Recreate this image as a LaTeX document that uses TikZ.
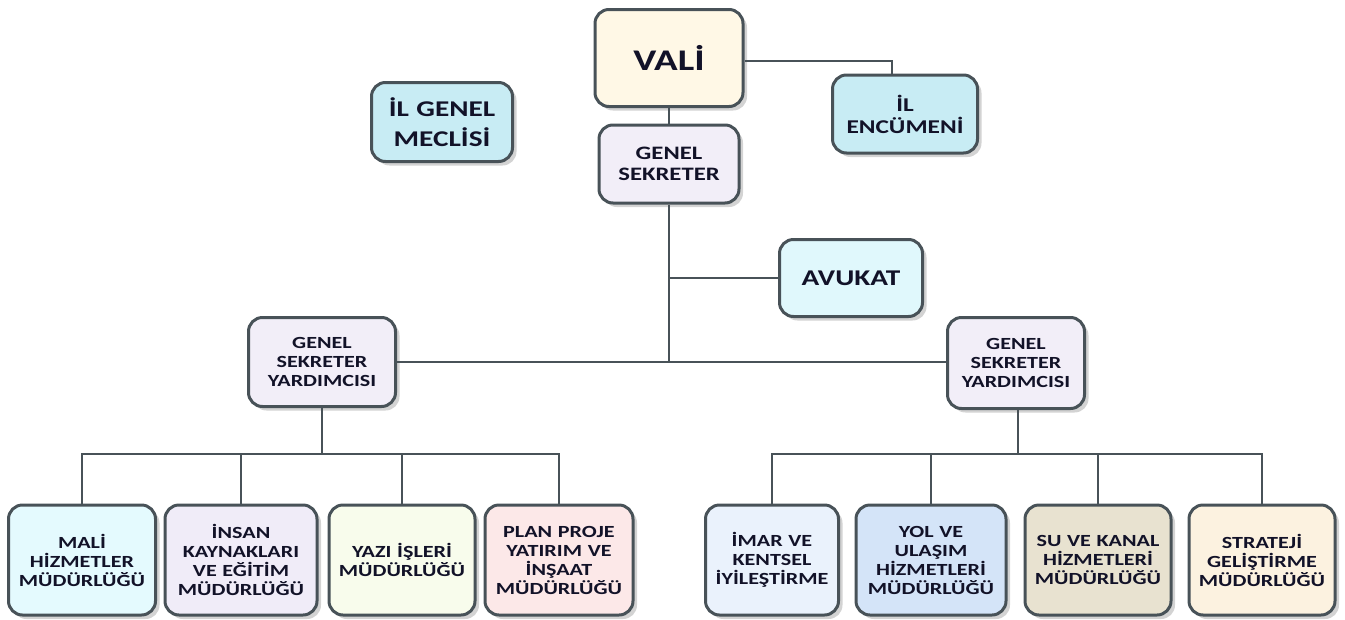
\documentclass[tikz,border=0pt]{standalone}
\usepackage{fontspec}
\setmainfont{Carlito}[FakeStretch=1.3]
\usetikzlibrary{shadows}
\definecolor{cream}{RGB}{255, 248, 230}
\definecolor{skyblue}{RGB}{200, 236, 244}
\definecolor{lavender}{RGB}{242, 238, 248}
\definecolor{icecyan}{RGB}{224, 248, 252}
\definecolor{palecyan}{RGB}{228, 250, 254}
\definecolor{palelilac}{RGB}{240, 236, 248}
\definecolor{palelime}{RGB}{248, 252, 236}
\definecolor{palerose}{RGB}{252, 232, 232}
\definecolor{paleblue}{RGB}{234, 242, 252}
\definecolor{softblue}{RGB}{212, 228, 248}
\definecolor{sand}{RGB}{232, 226, 208}
\definecolor{peach}{RGB}{252, 242, 224}
\definecolor{slate}{RGB}{72, 82, 88}
\definecolor{ink}{RGB}{18, 18, 40}

\tikzset{
  unit/.style={draw=slate, line width=3pt, rounded corners=14pt, align=center,
               text=ink, inner sep=2pt,
               drop shadow={shadow xshift=4pt, shadow yshift=-4pt, opacity=0.35}},
  link/.style={draw=slate, line width=2.5pt},
  bottombox/.style={unit, minimum height=110pt,
                    font=\fontsize{17}{19}\selectfont\bfseries}
}

\begin{document}
\begin{tikzpicture}[x=1pt, y=-1pt]
            \useasboundingbox (0,0) rectangle (1345,619);

            \coordinate (hub)  at (669,362);
            \coordinate (busL) at (322,454);
            \coordinate (busR) at (1018,454);

            \node[unit, fill=cream,    minimum width=148pt, minimum height=97pt, text width=140pt,
                  font=\fontsize{30}{32}\selectfont\bfseries]            (vali)    at (669, 58) {VALİ};
            \node[unit, fill=skyblue,  minimum width=145pt, minimum height=78pt, text width=139pt,
                  font=\fontsize{19.5}{22}\selectfont\bfseries]          (encumen) at (905,114) {İL\\ENCÜMENİ};
            \node[unit, fill=skyblue,  minimum width=141pt, minimum height=79pt, text width=135pt,
                  font=\fontsize{22.5}{30}\selectfont\bfseries]          (meclis)  at (442,122) {İL GENEL\\MECLİSİ};
            \node[unit, fill=lavender, minimum width=140pt, minimum height=78pt, text width=134pt,
                  font=\fontsize{19}{21}\selectfont\bfseries]            (gs)      at (669,164) {GENEL\\SEKRETER};
            \node[unit, fill=icecyan,  minimum width=143pt, minimum height=77pt, text width=137pt,
                  font=\fontsize{22.5}{26}\selectfont\bfseries]          (avukat)  at (851,278) {AVUKAT};
            \node[unit, fill=lavender, minimum width=147pt, minimum height=89pt, text width=141pt,
                  font=\fontsize{17}{19}\selectfont\bfseries]            (gsyL)    at (322,362) {GENEL\\SEKRETER\\YARDIMCISI};
            \node[unit, fill=lavender, minimum width=137pt, minimum height=91pt, text width=133pt,
                  font=\fontsize{17}{19}\selectfont\bfseries]            (gsyR)    at (1016,363) {GENEL\\SEKRETER\\YARDIMCISI};

            \node[bottombox, fill=palecyan,  minimum width=147pt, text width=143pt] (mali)     at (82,560)   {MALİ\\HİZMETLER\\MÜDÜRLÜĞÜ};
            \node[bottombox, fill=palelilac, minimum width=152pt, text width=148pt] (insan)    at (241,560)  {İNSAN\\KAYNAKLARI\\VE EĞİTİM\\MÜDÜRLÜĞÜ};
            \node[bottombox, fill=palelime,  minimum width=146pt, text width=142pt] (yazi)     at (402,560)  {YAZI İŞLERİ\\MÜDÜRLÜĞÜ};
            \node[bottombox, fill=palerose,  minimum width=148pt, text width=144pt] (plan)     at (559,560)  {PLAN PROJE\\YATIRIM VE\\İNŞAAT\\MÜDÜRLÜĞÜ};
            \node[bottombox, fill=paleblue,  minimum width=133pt, text width=129pt] (imar)     at (772,560)  {İMAR VE\\KENTSEL\\İYİLEŞTİRME};
            \node[bottombox, fill=softblue,  minimum width=150pt, text width=146pt] (yol)      at (931,560)  {YOL VE\\ULAŞIM\\HİZMETLERİ\\MÜDÜRLÜĞÜ};
            \node[bottombox, fill=sand,      minimum width=146pt, text width=142pt] (su)       at (1098,560) {SU VE KANAL\\HİZMETLERİ\\MÜDÜRLÜĞÜ};
            \node[bottombox, fill=peach,     minimum width=146pt, text width=142pt] (strateji) at (1262,560) {STRATEJİ\\GELİŞTİRME\\MÜDÜRLÜĞÜ};

            \draw[link] (vali.south) -- (gs.north);
            \draw[link] (vali.east |- 0,61) -| ([xshift=-13pt]encumen.north);
            \draw[link] (gs.south) -- (hub);
            \draw[link] (avukat.west) -- (avukat.west -| hub);
            \draw[link] (gsyL.east) -- (gsyL.east -| gsyR.west);

            \draw[link] (gsyL.south -| busL) -- (busL);
            \draw[link] (mali.north) |- (busL) -| (plan.north);
            \foreach \unitname in {insan,yazi}
                \draw[link] (\unitname.north) -- (\unitname.north |- busL);

            \draw[link] (gsyR.south -| busR) -- (busR);
            \draw[link] (imar.north) |- (busR) -| (strateji.north);
            \foreach \unitname in {yol,su}
                \draw[link] (\unitname.north) -- (\unitname.north |- busR);
        \end{tikzpicture}
\end{document}
